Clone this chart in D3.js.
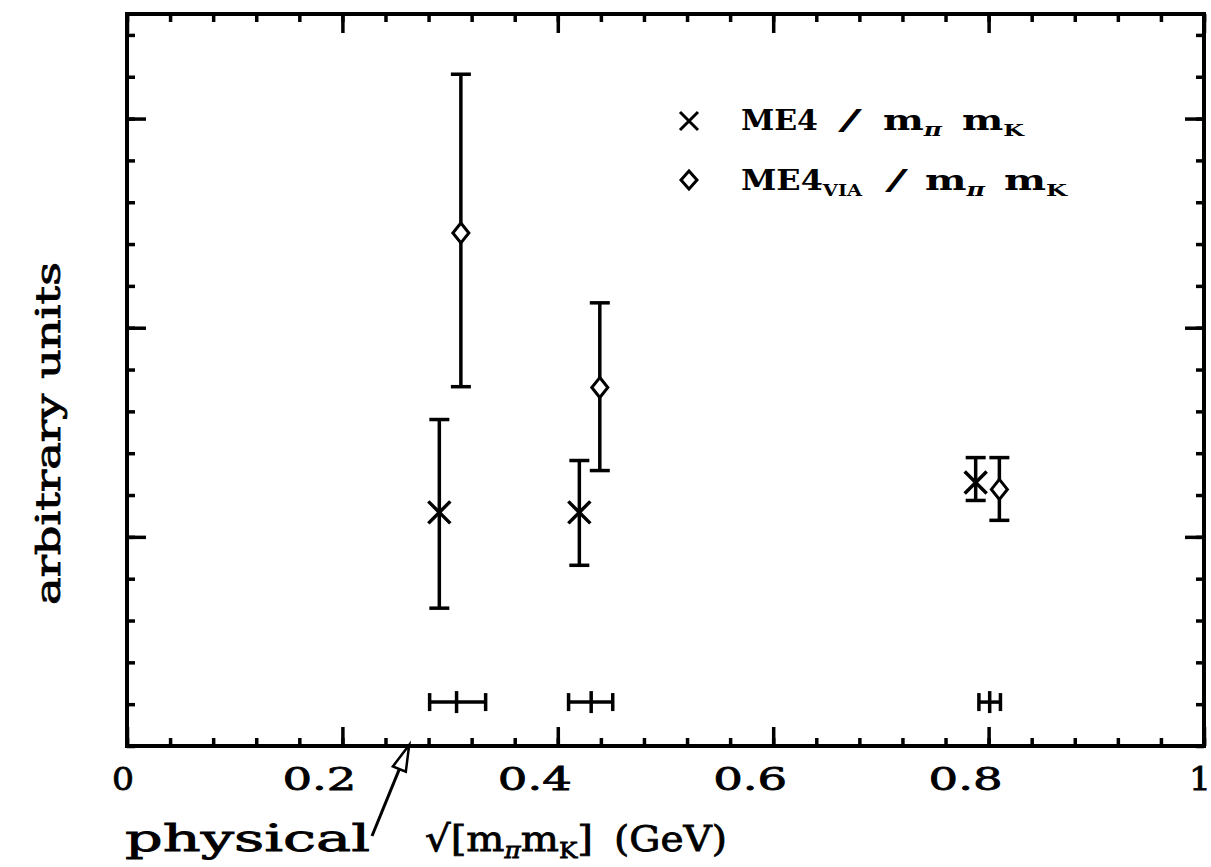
<!DOCTYPE html>
<html>
<head>
<meta charset="utf-8">
<script src="https://cdn.jsdelivr.net/npm/d3@7"></script>
<style>
  html, body { margin: 0; padding: 0; background: #fff; }
  svg { display: block; }
  text { font-family: "DejaVu Serif", "Liberation Serif", serif; fill: #000; }
</style>
</head>
<body>
<div id="chart"></div>
<script>
// ME4 / m_pi m_K  (crosses)
const me4X = [0.290, 0.420, 0.788];
const me4Y = [1.117, 1.117, 1.260];
const me4Lo = [0.659, 0.864, 1.174];
const me4Hi = [1.561, 1.365, 1.379];

// ME4_VIA / m_pi m_K  (diamonds)
const viaX = [0.310, 0.439, 0.810];
const viaY = [2.453, 1.714, 1.227];
const viaLo = [1.718, 1.317, 1.079];
const viaHi = [3.212, 2.119, 1.379];

// horizontal mass bars near the bottom
const massX = [0.306, 0.431, 0.801];
const massLo = [0.281, 0.410, 0.791];
const massHi = [0.333, 0.451, 0.811];
const massY = 0.21;

const physicalX = 0.262;

const xTickValues = [0, 0.2, 0.4, 0.6, 0.8, 1];
const xTickLabels = ["0", "0.2", "0.4", "0.6", "0.8", "1"];

const width = 1211, height = 867;
const margin = {left: 127, right: 7, top: 14, bottom: 121};

const svg = d3.select("#chart").append("svg")
    .attr("width", width)
    .attr("height", height);

const x = d3.scaleLinear().domain([0, 1]).range([margin.left, width - margin.right]);
const y = d3.scaleLinear().domain([0, 3.5]).range([height - margin.bottom, margin.top]);

const plotW = width - margin.left - margin.right;
const plotH = height - margin.top - margin.bottom;
const majorLen = 19, minorLen = 8;

// frame with inward ticks on all four sides
const xMinor = d3.range(0, 1.0001, 0.04);
const yMinor = d3.range(0, 3.5001, 0.2);

function drawAxis(axisGen, transform, majors, minors, scale) {
    svg.append("g").attr("transform", transform)
        .call(axisGen(scale).tickValues(minors).tickSize(minorLen).tickFormat(""))
        .call(g => g.select(".domain").remove())
        .call(g => g.selectAll("line").attr("stroke-width", 3.5));
    svg.append("g").attr("transform", transform)
        .call(axisGen(scale).tickValues(majors).tickSize(majorLen).tickFormat(""))
        .call(g => g.select(".domain").remove())
        .call(g => g.selectAll("line").attr("stroke-width", 3.5));
}

drawAxis(d3.axisTop, `translate(0,${y(0)})`, xTickValues, xMinor, x);
drawAxis(d3.axisBottom, `translate(0,${y(3.5)})`, xTickValues, xMinor, x);
drawAxis(d3.axisRight, `translate(${x(0)},0)`, [1, 2, 3], yMinor, y);
drawAxis(d3.axisLeft, `translate(${x(1)},0)`, [1, 2, 3], yMinor, y);

svg.append("rect")
    .attr("x", x(0)).attr("y", y(3.5))
    .attr("width", plotW).attr("height", plotH)
    .attr("fill", "none").attr("stroke", "#000").attr("stroke-width", 4);

// text helper: stretched to a given width, like the wide typeface of the original
function label(parent, px, py, len, size, weight) {
    return parent.append("text")
        .attr("x", px).attr("y", py)
        .attr("font-size", size)
        .attr("font-weight", weight || "normal")
        .attr("textLength", len)
        .attr("lengthAdjust", "spacingAndGlyphs");
}
function sub(t, s, size, dy, italic) {
    t.append("tspan").attr("font-size", size).attr("dy", dy)
        .attr("font-style", italic ? "italic" : null).text(s);
    return t;
}

// x tick labels
svg.append("g").selectAll("text")
    .data(xTickValues)
    .join("text")
    .attr("x", (d, i) => x(d) - (xTickLabels[i].length > 1 ? 60 : 15))
    .attr("y", 790)
    .attr("font-size", 32)
    .attr("stroke", "#000").attr("stroke-width", 0.8)
    .attr("textLength", (d, i) => xTickLabels[i].length > 1 ? 74 : 22)
    .attr("lengthAdjust", "spacingAndGlyphs")
    .text((d, i) => xTickLabels[i]);

// axis titles
label(svg, 125, 851, 245, 37).attr("stroke", "#000").attr("stroke-width", 0.8).text("physical");

const xt = label(svg, 425, 851, 168, 36).attr("stroke", "#000").attr("stroke-width", 0.8);
xt.append("tspan").text("\u221A[m");
sub(xt, "\u03C0", 22, 7, true);
xt.append("tspan").attr("dy", -7).text("m");
sub(xt, "K", 22, 7);
xt.append("tspan").attr("dy", -7).text("]");
label(svg, 614, 851, 113, 36).attr("stroke", "#000").attr("stroke-width", 0.8).text("(GeV)");

svg.append("text")
    .attr("transform", "translate(60,605) rotate(-90)")
    .attr("font-size", 33)
    .attr("stroke", "#000").attr("stroke-width", 0.8)
    .attr("textLength", 343)
    .attr("lengthAdjust", "spacingAndGlyphs")
    .text("arbitrary units");

// physical arrow: line from label to the axis, open triangular head
const tail = [372, 836];
const tip = [x(physicalX), y(0) - 1];
const dx = tip[0] - tail[0], dy = tip[1] - tail[1];
const L = Math.hypot(dx, dy);
const ux = dx / L, uy = dy / L;
const headLen = 26, headHalf = 7;
const base = [tip[0] - ux * headLen, tip[1] - uy * headLen];
svg.append("line")
    .attr("x1", tail[0]).attr("y1", tail[1])
    .attr("x2", base[0]).attr("y2", base[1])
    .attr("stroke", "#000").attr("stroke-width", 3);
svg.append("path")
    .attr("d", d3.line()([
        tip,
        [base[0] - uy * headHalf, base[1] + ux * headHalf],
        [base[0] + uy * headHalf, base[1] - ux * headHalf]
    ]) + "Z")
    .attr("fill", "#fff").attr("stroke", "#000").attr("stroke-width", 2.5);

// vertical error bars
const capW = 10;
function errorBars(xs, lo, hi) {
    const g = svg.append("g").attr("stroke", "#000").attr("stroke-width", 3.5).attr("fill", "none");
    xs.forEach((xv, i) => {
        g.append("line").attr("x1", x(xv)).attr("x2", x(xv)).attr("y1", y(lo[i])).attr("y2", y(hi[i]));
        g.append("line").attr("x1", x(xv) - capW).attr("x2", x(xv) + capW).attr("y1", y(lo[i])).attr("y2", y(lo[i]));
        g.append("line").attr("x1", x(xv) - capW).attr("x2", x(xv) + capW).attr("y1", y(hi[i])).attr("y2", y(hi[i]));
    });
    return g;
}
errorBars(me4X, me4Lo, me4Hi);
errorBars(viaX, viaLo, viaHi);

function crossPath(cx, cy, r) {
    return `M${cx - r},${cy - r}L${cx + r},${cy + r}M${cx - r},${cy + r}L${cx + r},${cy - r}`;
}
function diamondPath(cx, cy, rx, ry) {
    return `M${cx},${cy - ry}L${cx + rx},${cy}L${cx},${cy + ry}L${cx - rx},${cy}Z`;
}

svg.append("g").selectAll("path")
    .data(me4X)
    .join("path")
    .attr("d", (d, i) => crossPath(x(d), y(me4Y[i]), 11))
    .attr("stroke", "#000").attr("stroke-width", 3.5).attr("fill", "none");

svg.append("g").selectAll("path")
    .data(viaX)
    .join("path")
    .attr("d", (d, i) => diamondPath(x(d), y(viaY[i]), 8, 10))
    .attr("stroke", "#000").attr("stroke-width", 3).attr("fill", "#fff");

// horizontal mass bars
const mg = svg.append("g").attr("stroke", "#000").attr("stroke-width", 3.5);
massX.forEach((xv, i) => {
    const yy = y(massY);
    mg.append("line").attr("x1", x(massLo[i])).attr("x2", x(massHi[i])).attr("y1", yy).attr("y2", yy);
    mg.append("line").attr("x1", x(massLo[i])).attr("x2", x(massLo[i])).attr("y1", yy - 9).attr("y2", yy + 9);
    mg.append("line").attr("x1", x(massHi[i])).attr("x2", x(massHi[i])).attr("y1", yy - 9).attr("y2", yy + 9);
    mg.append("line").attr("x1", x(xv)).attr("x2", x(xv)).attr("y1", yy - 11).attr("y2", yy + 11);
});

// legend
const legend = svg.append("g");
legend.append("path")
    .attr("d", crossPath(689, 121, 9))
    .attr("stroke", "#000").attr("stroke-width", 3).attr("fill", "none");
legend.append("path")
    .attr("d", diamondPath(689, 180, 8, 9))
    .attr("stroke", "#000").attr("stroke-width", 3).attr("fill", "none");

label(legend, 741, 130, 77, 28, "bold").text("ME4");
label(legend, 838, 130, 24, 28, "normal").text("/");
sub(label(legend, 883, 130, 59, 28, "bold").text("m"), "\u03C0", 18, 6, true);
sub(label(legend, 962, 130, 62, 28, "bold").text("m"), "K", 17, 6);

sub(label(legend, 741, 190, 121, 28, "bold").text("ME4"), "VIA", 17, 6);
label(legend, 885, 190, 23, 28, "normal").text("/");
sub(label(legend, 925, 190, 60, 28, "bold").text("m"), "\u03C0", 18, 6, true);
sub(label(legend, 1004, 190, 63, 28, "bold").text("m"), "K", 17, 6);
</script>
</body>
</html>
